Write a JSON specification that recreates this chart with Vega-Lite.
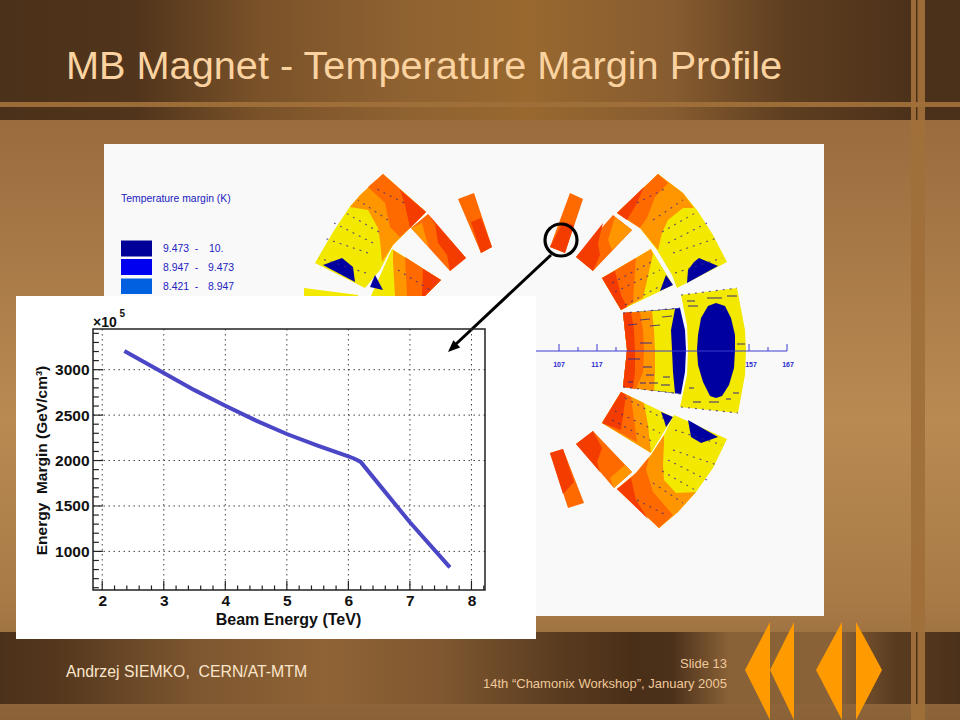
{"$schema":"https://vega.github.io/schema/vega-lite/v6.json","width":392,"height":261,"autosize":{"type":"none"},"padding":{"left":93,"top":329,"right":475,"bottom":130},"background":"#9a6c3e","view":{"stroke":null},"config":{"font":"Liberation Sans"},
"resolve":{"scale":{"x":"independent","y":"independent"}},
"layer":[
{"encoding":{"x":{"field":"x","type":"quantitative","scale":{"domain":[0,960],"range":[-93,867]},"axis":null},"y":{"field":"y","type":"quantitative","scale":{"domain":[0,720],"range":[-329,391]},"axis":null}},
"layer":[
{"data":{"values":[{"x":0,"x2":960,"y":120,"y2":720}]},"mark":{"type":"rect","fill":{"gradient":"linear","x1":0,"y1":0,"x2":0,"y2":1,"stops":[{"offset":0,"color":"#9a6c3e"},{"offset":0.5,"color":"#b98a52"},{"offset":0.8,"color":"#a87a46"},{"offset":1,"color":"#8a6238"}]}},"encoding":{"x2":{"field":"x2"},"y2":{"field":"y2"}}},
{"data":{"values":[{"x":0,"x2":960,"y":0,"y2":120}]},"mark":{"type":"rect","fill":{"gradient":"linear","x1":0,"y1":0,"x2":1,"y2":0,"stops":[{"offset":0,"color":"#4c311a"},{"offset":0.14,"color":"#50341b"},{"offset":0.27,"color":"#7a5229"},{"offset":0.42,"color":"#8f6231"},{"offset":0.55,"color":"#98682f"},{"offset":0.7,"color":"#875c30"},{"offset":0.82,"color":"#5e3e20"},{"offset":0.95,"color":"#4c311a"},{"offset":1,"color":"#4c311a"}]}},"encoding":{"x2":{"field":"x2"},"y2":{"field":"y2"}}},
{"data":{"values":[{"x":0,"x2":960,"y":632,"y2":704}]},"mark":{"type":"rect","fill":{"gradient":"linear","x1":0,"y1":0,"x2":1,"y2":0,"stops":[{"offset":0,"color":"#4c311a"},{"offset":0.06,"color":"#54371d"},{"offset":0.2,"color":"#7d5630"},{"offset":0.34,"color":"#8f6335"},{"offset":0.46,"color":"#7f5730"},{"offset":0.58,"color":"#5a3c20"},{"offset":0.66,"color":"#4a2f18"},{"offset":0.7,"color":"#4c311a"},{"offset":0.76,"color":"#8a6238"},{"offset":0.87,"color":"#8a6238"},{"offset":0.93,"color":"#5a3c20"},{"offset":1,"color":"#4c311a"}]}},"encoding":{"x2":{"field":"x2"},"y2":{"field":"y2"}}},
{"data":{"values":[{"x":0,"x2":960,"y":102,"y2":107},{"x":911,"x2":925,"y":0,"y2":720}]},"mark":{"type":"rect","fill":"#a0703a","opacity":0.95},"encoding":{"x2":{"field":"x2"},"y2":{"field":"y2"}}},
{"data":{"values":[{"x":916,"x2":917.5,"y":0,"y2":102},{"x":916,"x2":917.5,"y":107,"y2":120},{"x":916,"x2":917.5,"y":632,"y2":704}]},"mark":{"type":"rect","fill":"#4c311a"},"encoding":{"x2":{"field":"x2"},"y2":{"field":"y2"}}},
{"data":{"values":[{"x":104,"x2":824,"y":144,"y2":616}]},"mark":{"type":"rect","fill":"#f9f9f9"},"encoding":{"x2":{"field":"x2"},"y2":{"field":"y2"}}},
{"data":{"values":[
{"p":"a1","i":0,"x":570,"y":193,"k":"O"},{"p":"a1","i":1,"x":583,"y":199,"k":"O"},{"p":"a1","i":2,"x":565,"y":253,"k":"O"},{"p":"a1","i":3,"x":550,"y":247,"k":"O"},
{"p":"a2","i":0,"x":563,"y":222,"k":"R"},{"p":"a2","i":1,"x":574,"y":225,"k":"R"},{"p":"a2","i":2,"x":565,"y":253,"k":"R"},{"p":"a2","i":3,"x":550,"y":247,"k":"R"},
{"p":"b1","i":0,"x":613,"y":215,"k":"O"},{"p":"b1","i":1,"x":632,"y":230,"k":"O"},{"p":"b1","i":2,"x":593,"y":271,"k":"O"},{"p":"b1","i":3,"x":576,"y":257,"k":"O"},
{"p":"b2","i":0,"x":576,"y":257,"k":"R"},{"p":"b2","i":1,"x":603,"y":223,"k":"R"},{"p":"b2","i":2,"x":598,"y":243,"k":"R"},{"p":"b2","i":3,"x":600,"y":255,"k":"R"},{"p":"b2","i":4,"x":593,"y":271,"k":"R"},
{"p":"b3","i":0,"x":615,"y":217,"k":"L"},{"p":"b3","i":1,"x":632,"y":230,"k":"L"},{"p":"b3","i":2,"x":612,"y":250,"k":"L"},{"p":"b3","i":3,"x":608,"y":240,"k":"L"},
{"p":"c0","i":0,"x":651,"y":249,"k":"Y"},{"p":"c0","i":1,"x":673,"y":285,"k":"Y"},{"p":"c0","i":2,"x":621,"y":310,"k":"Y"},{"p":"c0","i":3,"x":602,"y":278,"k":"Y"},
{"p":"c1","i":0,"x":602,"y":278,"k":"L"},{"p":"c1","i":1,"x":651,"y":249,"k":"L"},{"p":"c1","i":2,"x":653,"y":254,"k":"L"},{"p":"c1","i":3,"x":643,"y":298,"k":"L"},{"p":"c1","i":4,"x":621,"y":310,"k":"L"},
{"p":"c2","i":0,"x":602,"y":278,"k":"O"},{"p":"c2","i":1,"x":636,"y":258,"k":"O"},{"p":"c2","i":2,"x":633,"y":302,"k":"O"},{"p":"c2","i":3,"x":621,"y":310,"k":"O"},
{"p":"c3","i":0,"x":602,"y":278,"k":"R"},{"p":"c3","i":1,"x":615,"y":271,"k":"R"},{"p":"c3","i":2,"x":621,"y":295,"k":"R"},{"p":"c3","i":3,"x":627,"y":307,"k":"R"},{"p":"c3","i":4,"x":621,"y":310,"k":"R"},
{"p":"c4","i":0,"x":666,"y":275,"k":"B"},{"p":"c4","i":1,"x":673,"y":285,"k":"B"},{"p":"c4","i":2,"x":660,"y":291,"k":"B"},{"p":"c4","i":3,"x":663,"y":283,"k":"B"},
{"p":"d0","i":0,"x":658,"y":174,"k":"Y"},{"p":"d0","i":1,"x":683,"y":193,"k":"Y"},{"p":"d0","i":2,"x":697,"y":210,"k":"Y"},{"p":"d0","i":3,"x":713,"y":235,"k":"Y"},{"p":"d0","i":4,"x":727,"y":262,"k":"Y"},{"p":"d0","i":5,"x":677,"y":288,"k":"Y"},{"p":"d0","i":6,"x":672,"y":275,"k":"Y"},{"p":"d0","i":7,"x":657,"y":250,"k":"Y"},{"p":"d0","i":8,"x":640,"y":228,"k":"Y"},{"p":"d0","i":9,"x":617,"y":213,"k":"Y"},
{"p":"d1","i":0,"x":658,"y":174,"k":"L"},{"p":"d1","i":1,"x":683,"y":193,"k":"L"},{"p":"d1","i":2,"x":694,"y":208,"k":"L"},{"p":"d1","i":3,"x":683,"y":208,"k":"L"},{"p":"d1","i":4,"x":668,"y":220,"k":"L"},{"p":"d1","i":5,"x":662,"y":233,"k":"L"},{"p":"d1","i":6,"x":658,"y":250,"k":"L"},{"p":"d1","i":7,"x":640,"y":228,"k":"L"},{"p":"d1","i":8,"x":617,"y":213,"k":"L"},
{"p":"d2","i":0,"x":658,"y":174,"k":"O"},{"p":"d2","i":1,"x":668,"y":183,"k":"O"},{"p":"d2","i":2,"x":655,"y":197,"k":"O"},{"p":"d2","i":3,"x":647,"y":218,"k":"O"},{"p":"d2","i":4,"x":640,"y":228,"k":"O"},{"p":"d2","i":5,"x":617,"y":213,"k":"O"},
{"p":"d3","i":0,"x":617,"y":213,"k":"R"},{"p":"d3","i":1,"x":644,"y":187,"k":"R"},{"p":"d3","i":2,"x":636,"y":205,"k":"R"},{"p":"d3","i":3,"x":627,"y":220,"k":"R"},
{"p":"d4","i":0,"x":699,"y":258,"k":"B"},{"p":"d4","i":1,"x":718,"y":266,"k":"B"},{"p":"d4","i":2,"x":687,"y":283,"k":"B"},{"p":"d4","i":3,"x":688,"y":270,"k":"B"},{"p":"d4","i":4,"x":694,"y":262,"k":"B"},
{"p":"e0","i":0,"x":623,"y":313,"k":"B"},{"p":"e0","i":1,"x":680,"y":308,"k":"B"},{"p":"e0","i":2,"x":685,"y":330,"k":"B"},{"p":"e0","i":3,"x":686,"y":350,"k":"B"},{"p":"e0","i":4,"x":685,"y":372,"k":"B"},{"p":"e0","i":5,"x":681,"y":394,"k":"B"},{"p":"e0","i":6,"x":623,"y":387,"k":"B"},{"p":"e0","i":7,"x":627,"y":350,"k":"B"},
{"p":"e1","i":0,"x":623,"y":313,"k":"Y"},{"p":"e1","i":1,"x":675,"y":309,"k":"Y"},{"p":"e1","i":2,"x":671,"y":330,"k":"Y"},{"p":"e1","i":3,"x":672,"y":350,"k":"Y"},{"p":"e1","i":4,"x":673,"y":372,"k":"Y"},{"p":"e1","i":5,"x":675,"y":393,"k":"Y"},{"p":"e1","i":6,"x":623,"y":387,"k":"Y"},{"p":"e1","i":7,"x":627,"y":350,"k":"Y"},
{"p":"e2","i":0,"x":623,"y":313,"k":"L"},{"p":"e2","i":1,"x":652,"y":311,"k":"L"},{"p":"e2","i":2,"x":654,"y":330,"k":"L"},{"p":"e2","i":3,"x":655,"y":350,"k":"L"},{"p":"e2","i":4,"x":655,"y":372,"k":"L"},{"p":"e2","i":5,"x":654,"y":391,"k":"L"},{"p":"e2","i":6,"x":623,"y":387,"k":"L"},{"p":"e2","i":7,"x":627,"y":350,"k":"L"},
{"p":"e3","i":0,"x":623,"y":313,"k":"O"},{"p":"e3","i":1,"x":640,"y":312,"k":"O"},{"p":"e3","i":2,"x":643,"y":330,"k":"O"},{"p":"e3","i":3,"x":644,"y":350,"k":"O"},{"p":"e3","i":4,"x":643,"y":372,"k":"O"},{"p":"e3","i":5,"x":636,"y":389,"k":"O"},{"p":"e3","i":6,"x":623,"y":387,"k":"O"},{"p":"e3","i":7,"x":627,"y":350,"k":"O"},
{"p":"e4","i":0,"x":623,"y":313,"k":"R"},{"p":"e4","i":1,"x":631,"y":312,"k":"R"},{"p":"e4","i":2,"x":634,"y":330,"k":"R"},{"p":"e4","i":3,"x":635,"y":350,"k":"R"},{"p":"e4","i":4,"x":635,"y":372,"k":"R"},{"p":"e4","i":5,"x":633,"y":388,"k":"R"},{"p":"e4","i":6,"x":623,"y":387,"k":"R"},{"p":"e4","i":7,"x":627,"y":350,"k":"R"},
{"p":"f0","i":0,"x":681,"y":295,"k":"Y"},{"p":"f0","i":1,"x":737,"y":288,"k":"Y"},{"p":"f0","i":2,"x":745,"y":330,"k":"Y"},{"p":"f0","i":3,"x":746,"y":350,"k":"Y"},{"p":"f0","i":4,"x":745,"y":375,"k":"Y"},{"p":"f0","i":5,"x":738,"y":413,"k":"Y"},{"p":"f0","i":6,"x":680,"y":407,"k":"Y"},{"p":"f0","i":7,"x":687,"y":375,"k":"Y"},{"p":"f0","i":8,"x":688,"y":350,"k":"Y"},{"p":"f0","i":9,"x":687,"y":325,"k":"Y"},
{"p":"f1","i":0,"x":716,"y":303,"k":"B"},{"p":"f1","i":1,"x":725,"y":306,"k":"B"},{"p":"f1","i":2,"x":731,"y":318,"k":"B"},{"p":"f1","i":3,"x":735,"y":335,"k":"B"},{"p":"f1","i":4,"x":735,"y":350,"k":"B"},{"p":"f1","i":5,"x":734,"y":368,"k":"B"},{"p":"f1","i":6,"x":729,"y":385,"k":"B"},{"p":"f1","i":7,"x":722,"y":396,"k":"B"},{"p":"f1","i":8,"x":716,"y":398,"k":"B"},{"p":"f1","i":9,"x":710,"y":396,"k":"B"},{"p":"f1","i":10,"x":703,"y":382,"k":"B"},{"p":"f1","i":11,"x":698,"y":365,"k":"B"},{"p":"f1","i":12,"x":697,"y":350,"k":"B"},{"p":"f1","i":13,"x":698,"y":335,"k":"B"},{"p":"f1","i":14,"x":701,"y":318,"k":"B"},{"p":"f1","i":15,"x":708,"y":306,"k":"B"},
{"p":"g0","i":0,"x":621,"y":392,"k":"Y"},{"p":"g0","i":1,"x":673,"y":417,"k":"Y"},{"p":"g0","i":2,"x":651,"y":453,"k":"Y"},{"p":"g0","i":3,"x":602,"y":423,"k":"Y"},
{"p":"g1","i":0,"x":621,"y":392,"k":"L"},{"p":"g1","i":1,"x":644,"y":403,"k":"L"},{"p":"g1","i":2,"x":648,"y":425,"k":"L"},{"p":"g1","i":3,"x":651,"y":453,"k":"L"},{"p":"g1","i":4,"x":602,"y":423,"k":"L"},
{"p":"g2","i":0,"x":621,"y":392,"k":"O"},{"p":"g2","i":1,"x":631,"y":397,"k":"O"},{"p":"g2","i":2,"x":637,"y":442,"k":"O"},{"p":"g2","i":3,"x":602,"y":423,"k":"O"},
{"p":"g3","i":0,"x":621,"y":392,"k":"R"},{"p":"g3","i":1,"x":626,"y":395,"k":"R"},{"p":"g3","i":2,"x":621,"y":430,"k":"R"},{"p":"g3","i":3,"x":602,"y":423,"k":"R"},
{"p":"g4","i":0,"x":661,"y":412,"k":"B"},{"p":"g4","i":1,"x":673,"y":417,"k":"B"},{"p":"g4","i":2,"x":666,"y":427,"k":"B"},{"p":"g4","i":3,"x":664,"y":420,"k":"B"},
{"p":"h0","i":0,"x":593,"y":431,"k":"O"},{"p":"h0","i":1,"x":632,"y":472,"k":"O"},{"p":"h0","i":2,"x":614,"y":488,"k":"O"},{"p":"h0","i":3,"x":576,"y":444,"k":"O"},
{"p":"h1","i":0,"x":576,"y":444,"k":"R"},{"p":"h1","i":1,"x":593,"y":431,"k":"R"},{"p":"h1","i":2,"x":602,"y":448,"k":"R"},{"p":"h1","i":3,"x":597,"y":462,"k":"R"},{"p":"h1","i":4,"x":600,"y":472,"k":"R"},
{"p":"h2","i":0,"x":625,"y":465,"k":"L"},{"p":"h2","i":1,"x":632,"y":472,"k":"L"},{"p":"h2","i":2,"x":614,"y":488,"k":"L"},{"p":"h2","i":3,"x":610,"y":478,"k":"L"},
{"p":"i0","i":0,"x":550,"y":453,"k":"O"},{"p":"i0","i":1,"x":563,"y":449,"k":"O"},{"p":"i0","i":2,"x":584,"y":503,"k":"O"},{"p":"i0","i":3,"x":568,"y":508,"k":"O"},
{"p":"i1","i":0,"x":550,"y":453,"k":"R"},{"p":"i1","i":1,"x":563,"y":449,"k":"R"},{"p":"i1","i":2,"x":574,"y":482,"k":"R"},{"p":"i1","i":3,"x":563,"y":494,"k":"R"},
{"p":"j0","i":0,"x":674,"y":415,"k":"Y"},{"p":"j0","i":1,"x":727,"y":439,"k":"Y"},{"p":"j0","i":2,"x":713,"y":468,"k":"Y"},{"p":"j0","i":3,"x":696,"y":492,"k":"Y"},{"p":"j0","i":4,"x":678,"y":512,"k":"Y"},{"p":"j0","i":5,"x":659,"y":528,"k":"Y"},{"p":"j0","i":6,"x":617,"y":489,"k":"Y"},{"p":"j0","i":7,"x":636,"y":473,"k":"Y"},{"p":"j0","i":8,"x":651,"y":455,"k":"Y"},{"p":"j0","i":9,"x":664,"y":435,"k":"Y"},
{"p":"j1","i":0,"x":664,"y":435,"k":"L"},{"p":"j1","i":1,"x":651,"y":455,"k":"L"},{"p":"j1","i":2,"x":636,"y":473,"k":"L"},{"p":"j1","i":3,"x":617,"y":489,"k":"L"},{"p":"j1","i":4,"x":659,"y":528,"k":"L"},{"p":"j1","i":5,"x":678,"y":512,"k":"L"},{"p":"j1","i":6,"x":696,"y":492,"k":"L"},{"p":"j1","i":7,"x":676,"y":493,"k":"L"},{"p":"j1","i":8,"x":664,"y":480,"k":"L"},{"p":"j1","i":9,"x":663,"y":465,"k":"L"},{"p":"j1","i":10,"x":664,"y":443,"k":"L"},
{"p":"j2","i":0,"x":649,"y":457,"k":"O"},{"p":"j2","i":1,"x":636,"y":473,"k":"O"},{"p":"j2","i":2,"x":617,"y":489,"k":"O"},{"p":"j2","i":3,"x":659,"y":528,"k":"O"},{"p":"j2","i":4,"x":673,"y":515,"k":"O"},{"p":"j2","i":5,"x":653,"y":492,"k":"O"},{"p":"j2","i":6,"x":646,"y":470,"k":"O"},
{"p":"j3","i":0,"x":631,"y":478,"k":"R"},{"p":"j3","i":1,"x":617,"y":489,"k":"R"},{"p":"j3","i":2,"x":648,"y":519,"k":"R"},{"p":"j3","i":3,"x":636,"y":500,"k":"R"},
{"p":"j4","i":0,"x":688,"y":420,"k":"B"},{"p":"j4","i":1,"x":718,"y":437,"k":"B"},{"p":"j4","i":2,"x":701,"y":443,"k":"B"},{"p":"j4","i":3,"x":691,"y":437,"k":"B"},
{"p":"k0","i":0,"x":458,"y":199,"k":"O"},{"p":"k0","i":1,"x":474,"y":193,"k":"O"},{"p":"k0","i":2,"x":492,"y":247,"k":"O"},{"p":"k0","i":3,"x":481,"y":253,"k":"O"},
{"p":"k1","i":0,"x":471,"y":222,"k":"R"},{"p":"k1","i":1,"x":481,"y":218,"k":"R"},{"p":"k1","i":2,"x":492,"y":247,"k":"R"},{"p":"k1","i":3,"x":481,"y":253,"k":"R"},
{"p":"l0","i":0,"x":428,"y":214,"k":"O"},{"p":"l0","i":1,"x":466,"y":258,"k":"O"},{"p":"l0","i":2,"x":450,"y":271,"k":"O"},{"p":"l0","i":3,"x":411,"y":228,"k":"O"},
{"p":"l1","i":0,"x":428,"y":214,"k":"R"},{"p":"l1","i":1,"x":466,"y":258,"k":"R"},{"p":"l1","i":2,"x":450,"y":271,"k":"R"},{"p":"l1","i":3,"x":447,"y":255,"k":"R"},{"p":"l1","i":4,"x":438,"y":243,"k":"R"},{"p":"l1","i":5,"x":435,"y":224,"k":"R"},
{"p":"l2","i":0,"x":411,"y":228,"k":"L"},{"p":"l2","i":1,"x":422,"y":223,"k":"L"},{"p":"l2","i":2,"x":425,"y":235,"k":"L"},{"p":"l2","i":3,"x":429,"y":247,"k":"L"},
{"p":"m0","i":0,"x":383,"y":174,"k":"Y"},{"p":"m0","i":1,"x":426,"y":212,"k":"Y"},{"p":"m0","i":2,"x":410,"y":228,"k":"Y"},{"p":"m0","i":3,"x":393,"y":245,"k":"Y"},{"p":"m0","i":4,"x":380,"y":270,"k":"Y"},{"p":"m0","i":5,"x":365,"y":288,"k":"Y"},{"p":"m0","i":6,"x":315,"y":263,"k":"Y"},{"p":"m0","i":7,"x":333,"y":232,"k":"Y"},{"p":"m0","i":8,"x":351,"y":205,"k":"Y"},
{"p":"m1","i":0,"x":383,"y":174,"k":"L"},{"p":"m1","i":1,"x":426,"y":212,"k":"L"},{"p":"m1","i":2,"x":410,"y":228,"k":"L"},{"p":"m1","i":3,"x":393,"y":245,"k":"L"},{"p":"m1","i":4,"x":382,"y":262,"k":"L"},{"p":"m1","i":5,"x":380,"y":240,"k":"L"},{"p":"m1","i":6,"x":378,"y":228,"k":"L"},{"p":"m1","i":7,"x":368,"y":210,"k":"L"},{"p":"m1","i":8,"x":350,"y":207,"k":"L"},{"p":"m1","i":9,"x":360,"y":195,"k":"L"},
{"p":"m2","i":0,"x":383,"y":174,"k":"O"},{"p":"m2","i":1,"x":426,"y":212,"k":"O"},{"p":"m2","i":2,"x":410,"y":228,"k":"O"},{"p":"m2","i":3,"x":400,"y":237,"k":"O"},{"p":"m2","i":4,"x":390,"y":227,"k":"O"},{"p":"m2","i":5,"x":385,"y":203,"k":"O"},{"p":"m2","i":6,"x":368,"y":187,"k":"O"},
{"p":"m3","i":0,"x":400,"y":190,"k":"R"},{"p":"m3","i":1,"x":426,"y":212,"k":"R"},{"p":"m3","i":2,"x":410,"y":228,"k":"R"},{"p":"m3","i":3,"x":405,"y":205,"k":"R"},
{"p":"m4","i":0,"x":323,"y":265,"k":"B"},{"p":"m4","i":1,"x":342,"y":258,"k":"B"},{"p":"m4","i":2,"x":353,"y":267,"k":"B"},{"p":"m4","i":3,"x":355,"y":282,"k":"B"},
{"p":"n0","i":0,"x":392,"y":249,"k":"Y"},{"p":"n0","i":1,"x":441,"y":280,"k":"Y"},{"p":"n0","i":2,"x":425,"y":296,"k":"Y"},{"p":"n0","i":3,"x":371,"y":296,"k":"Y"},
{"p":"n1","i":0,"x":393,"y":250,"k":"L"},{"p":"n1","i":1,"x":441,"y":280,"k":"L"},{"p":"n1","i":2,"x":425,"y":296,"k":"L"},{"p":"n1","i":3,"x":395,"y":296,"k":"L"},{"p":"n1","i":4,"x":393,"y":262,"k":"L"},
{"p":"n2","i":0,"x":405,"y":257,"k":"O"},{"p":"n2","i":1,"x":441,"y":280,"k":"O"},{"p":"n2","i":2,"x":425,"y":296,"k":"O"},{"p":"n2","i":3,"x":407,"y":296,"k":"O"},
{"p":"n3","i":0,"x":423,"y":269,"k":"R"},{"p":"n3","i":1,"x":441,"y":280,"k":"R"},{"p":"n3","i":2,"x":425,"y":296,"k":"R"},{"p":"n3","i":3,"x":422,"y":296,"k":"R"},
{"p":"n4","i":0,"x":375,"y":275,"k":"B"},{"p":"n4","i":1,"x":383,"y":290,"k":"B"},{"p":"n4","i":2,"x":370,"y":287,"k":"B"},
{"p":"o0","i":0,"x":304,"y":288,"k":"Y"},{"p":"o0","i":1,"x":358,"y":295,"k":"Y"},{"p":"o0","i":2,"x":358,"y":296,"k":"Y"},{"p":"o0","i":3,"x":304,"y":296,"k":"Y"}
]},"mark":{"type":"line","strokeOpacity":0,"strokeWidth":0},"encoding":{"detail":{"field":"p"},"order":{"field":"i","type":"quantitative"},"fill":{"field":"k","type":"nominal","legend":null,"scale":{"domain":["R","O","L","Y","B"],"range":["#f53c00","#ff6a00","#ff9600","#f2e800","#0000a0"]}}}},
{"data":{"values":[{"x":628,"x2":637,"y":325,"y2":324},{"x":640,"x2":650,"y":320,"y2":319},{"x":650,"x2":660,"y":326,"y2":325},{"x":662,"x2":672,"y":317,"y2":316},{"x":640,"x2":652,"y":343,"y2":343},{"x":628,"x2":640,"y":359,"y2":359},{"x":643,"x2":652,"y":367,"y2":367},{"x":646,"x2":654,"y":375,"y2":375},{"x":663,"x2":670,"y":377,"y2":377},{"x":628,"x2":633,"y":382,"y2":382},{"x":640,"x2":646,"y":383,"y2":383},{"x":649,"x2":658,"y":383,"y2":383},{"x":661,"x2":670,"y":385,"y2":385},{"x":687,"x2":695,"y":301,"y2":301},{"x":707,"x2":722,"y":298,"y2":298},{"x":727,"x2":737,"y":296,"y2":296},{"x":688,"x2":698,"y":306,"y2":306},{"x":737,"x2":745,"y":344,"y2":344},{"x":733,"x2":739,"y":393,"y2":393},{"x":726,"x2":731,"y":399,"y2":399},{"x":689,"x2":694,"y":388,"y2":388},{"x":693,"x2":701,"y":402,"y2":402},{"x":709,"x2":719,"y":402,"y2":402}]},"mark":{"type":"rule","stroke":"#3a2a80","strokeWidth":1.2,"opacity":0.85},"encoding":{"x2":{"field":"x2"},"y2":{"field":"y2"}}},
{"data":{"values":[{"x":623,"x2":680,"y":313,"y2":308},{"x":681,"x2":737,"y":295,"y2":288},{"x":681,"x2":738,"y":407,"y2":413},{"x":623,"x2":681,"y":387,"y2":394},{"x":673,"x2":717,"y":253,"y2":238},{"x":668,"x2":707,"y":243,"y2":223},{"x":662,"x2":697,"y":232,"y2":212},{"x":653,"x2":683,"y":220,"y2":200},{"x":637,"x2":668,"y":203,"y2":187},{"x":675,"x2":722,"y":273,"y2":258},{"x":673,"x2":717,"y":450,"y2":465},{"x":668,"x2":707,"y":460,"y2":480},{"x":662,"x2":697,"y":471,"y2":491},{"x":653,"x2":683,"y":483,"y2":503},{"x":637,"x2":668,"y":500,"y2":516},{"x":675,"x2":722,"y":430,"y2":445},{"x":368,"x2":324,"y":253,"y2":238},{"x":373,"x2":334,"y":243,"y2":223},{"x":379,"x2":344,"y":232,"y2":212},{"x":388,"x2":358,"y":220,"y2":200},{"x":404,"x2":373,"y":203,"y2":187},{"x":366,"x2":319,"y":273,"y2":258},{"x":615,"x2":660,"y":292,"y2":270},{"x":612,"x2":655,"y":283,"y2":260},{"x":625,"x2":668,"y":305,"y2":282},{"x":615,"x2":660,"y":411,"y2":433},{"x":612,"x2":655,"y":420,"y2":443},{"x":625,"x2":668,"y":398,"y2":421},{"x":398,"x2":430,"y":270,"y2":290}]},"mark":{"type":"rule","stroke":"#3a2a80","strokeWidth":1.1,"strokeDash":[2,5],"opacity":0.8},"encoding":{"x2":{"field":"x2"},"y2":{"field":"y2"}}},
{"data":{"values":[{"x":500,"x2":787,"y":351,"y2":351},{"x":559,"x2":559,"y":344,"y2":351},{"x":578,"x2":578,"y":347,"y2":351},{"x":597,"x2":597,"y":344,"y2":351},{"x":616,"x2":616,"y":347,"y2":351},{"x":749,"x2":749,"y":344,"y2":351},{"x":768,"x2":768,"y":347,"y2":351},{"x":787,"x2":787,"y":344,"y2":351}]},"mark":{"type":"rule","stroke":"#3a3ad0","strokeWidth":1},"encoding":{"x2":{"field":"x2"},"y2":{"field":"y2"}}},
{"data":{"values":[{"x":559,"y":365,"t":"107"},{"x":597,"y":365,"t":"117"},{"x":751,"y":365,"t":"157"},{"x":788,"y":365,"t":"167"}]},"mark":{"type":"text","fontSize":7,"fontWeight":"bold","fill":"#2a2ad0","align":"center","baseline":"middle"},"encoding":{"text":{"field":"t"}}},
{"data":{"values":[{"x":121,"x2":152,"y":240.5,"y2":256.5,"c":"#000099"},{"x":121,"x2":152,"y":259,"y2":275,"c":"#0000f0"},{"x":121,"x2":152,"y":278.5,"y2":294,"c":"#0060e0"}]},"mark":{"type":"rect"},"encoding":{"x2":{"field":"x2"},"y2":{"field":"y2"},"fill":{"field":"c","type":"nominal","scale":null}}},
{"data":{"values":[{"x":121,"y":199,"t":"Temperature margin (K)"},{"x":163,"y":249,"t":"9.473\u00a0\u00a0-"},{"x":209,"y":249,"t":"10."},{"x":163,"y":268,"t":"8.947\u00a0\u00a0-"},{"x":208,"y":268,"t":"9.473"},{"x":163,"y":287,"t":"8.421\u00a0\u00a0-"},{"x":208,"y":287,"t":"8.947"}]},"mark":{"type":"text","fontSize":10.4,"fill":"#2222c0","align":"left","baseline":"middle"},"encoding":{"text":{"field":"t"}}},
{"data":{"values":[{"x":16,"x2":536,"y":296,"y2":639}]},"mark":{"type":"rect","fill":"#ffffff"},"encoding":{"x2":{"field":"x2"},"y2":{"field":"y2"}}},
{"data":{"values":[{"x":561,"y":240}]},"mark":{"type":"point","shape":"circle","size":1024,"filled":false,"stroke":"#000000","strokeWidth":3.2,"opacity":1}},
{"data":{"values":[{"x":551,"y":255,"i":0},{"x":456,"y":344,"i":1}]},"mark":{"type":"line","stroke":"#000000","strokeWidth":3},"encoding":{"order":{"field":"i","type":"quantitative"}}},
{"data":{"values":[{"x":448,"y":352,"y2":352},{"x":453.4,"y":340.2,"y2":350},{"x":460.2,"y":347.4,"y2":347.4}]},"mark":{"type":"area","fill":"#000000","interpolate":"linear"},"encoding":{"y2":{"field":"y2"}}},
{"data":{"values":[{"s":"a","x":745,"y":670,"y2":670},{"s":"a","x":770,"y":622,"y2":720},{"s":"b","x":770,"y":670,"y2":670},{"s":"b","x":794,"y":622,"y2":720},{"s":"c","x":816,"y":670,"y2":670},{"s":"c","x":842,"y":622,"y2":720},{"s":"d","x":856,"y":622,"y2":720},{"s":"d","x":882,"y":670,"y2":670}]},"mark":{"type":"area","fill":"#ff9a00","interpolate":"linear"},"encoding":{"y2":{"field":"y2"},"detail":{"field":"s"}}},
{"data":{"values":[{"x":66,"y":79,"t":"MB Magnet - Temperature Margin Profile"}]},"mark":{"type":"text","font":"Liberation Sans","fontSize":39.7,"fill":"#fbd3a0","align":"left","baseline":"alphabetic"},"encoding":{"text":{"field":"t"}}},
{"data":{"values":[{"x":66,"y":677,"t":"Andrzej SIEMKO,\u00a0\u00a0CERN/AT-MTM"}]},"mark":{"type":"text","fontSize":15.8,"fill":"#fbe6cc","align":"left","baseline":"alphabetic"},"encoding":{"text":{"field":"t"}}},
{"data":{"values":[{"x":727,"y":668,"t":"Slide 13"},{"x":727,"y":688,"t":"14th “Chamonix Workshop”, January 2005"}]},"mark":{"type":"text","fontSize":13,"fill":"#f0c99a","align":"right","baseline":"alphabetic"},"encoding":{"text":{"field":"t"}}}
]},
{"encoding":{"x":{"field":"x","type":"quantitative","scale":{"domain":[1.85,8.22],"nice":false,"zero":false},"axis":{"values":[2,3,4,5,6,7,8],"format":"d","grid":false,"domain":false,"ticks":false,"zindex":1,"title":"Beam Energy (TeV)","labelFont":"Liberation Sans","labelFontWeight":"bold","labelFontSize":15.5,"labelColor":"#111111","labelPadding":3,"titleFont":"Liberation Sans","titleFontWeight":"bold","titleFontSize":16,"titleColor":"#111111","titlePadding":3,"titleX":195}},"y":{"field":"y","type":"quantitative","scale":{"domain":[575,3448],"nice":false,"zero":false},"axis":{"values":[1000,1500,2000,2500,3000],"format":"d","grid":false,"domain":false,"ticks":false,"zindex":1,"title":"Energy\u00a0\u00a0Margin (GeV/cm³)","labelFont":"Liberation Sans","labelFontWeight":"bold","labelFontSize":15.5,"labelColor":"#111111","labelPadding":4,"titleFont":"Liberation Sans","titleFontWeight":"bold","titleFontSize":15.5,"titleColor":"#111111","titlePadding":5,"titleY":131}}},
"layer":[
{"data":{"values":[{"x":2},{"x":3},{"x":4},{"x":5},{"x":6},{"x":7},{"x":8}]},"mark":{"type":"rule","stroke":"#444444","strokeWidth":1,"strokeDash":[1.5,3.5]},"encoding":{"y":null}},
{"data":{"values":[{"y":1000},{"y":1500},{"y":2000},{"y":2500},{"y":3000}]},"mark":{"type":"rule","stroke":"#444444","strokeWidth":1,"strokeDash":[1.5,3.5]},"encoding":{"x":null}},
{"data":{"values":[{"x":2,"y":575,"y2":674},{"x":2.2,"y":575,"y2":625},{"x":2.4,"y":575,"y2":625},{"x":2.6,"y":575,"y2":625},{"x":2.8,"y":575,"y2":625},{"x":3,"y":575,"y2":674},{"x":3.2,"y":575,"y2":625},{"x":3.4,"y":575,"y2":625},{"x":3.6,"y":575,"y2":625},{"x":3.8,"y":575,"y2":625},{"x":4,"y":575,"y2":674},{"x":4.2,"y":575,"y2":625},{"x":4.4,"y":575,"y2":625},{"x":4.6,"y":575,"y2":625},{"x":4.8,"y":575,"y2":625},{"x":5,"y":575,"y2":674},{"x":5.2,"y":575,"y2":625},{"x":5.4,"y":575,"y2":625},{"x":5.6,"y":575,"y2":625},{"x":5.8,"y":575,"y2":625},{"x":6,"y":575,"y2":674},{"x":6.2,"y":575,"y2":625},{"x":6.4,"y":575,"y2":625},{"x":6.6,"y":575,"y2":625},{"x":6.8,"y":575,"y2":625},{"x":7,"y":575,"y2":674},{"x":7.2,"y":575,"y2":625},{"x":7.4,"y":575,"y2":625},{"x":7.6,"y":575,"y2":625},{"x":7.8,"y":575,"y2":625},{"x":8,"y":575,"y2":674},{"x":8.2,"y":575,"y2":625}]},"mark":{"type":"rule","stroke":"#222222","strokeWidth":1.2},"encoding":{"y2":{"field":"y2"}}},
{"data":{"values":[{"y":600,"x":1.85,"x2":1.945},{"y":700,"x":1.85,"x2":1.945},{"y":800,"x":1.85,"x2":1.945},{"y":900,"x":1.85,"x2":1.945},{"y":1000,"x":1.85,"x2":2.01},{"y":1100,"x":1.85,"x2":1.945},{"y":1200,"x":1.85,"x2":1.945},{"y":1300,"x":1.85,"x2":1.945},{"y":1400,"x":1.85,"x2":1.945},{"y":1500,"x":1.85,"x2":2.01},{"y":1600,"x":1.85,"x2":1.945},{"y":1700,"x":1.85,"x2":1.945},{"y":1800,"x":1.85,"x2":1.945},{"y":1900,"x":1.85,"x2":1.945},{"y":2000,"x":1.85,"x2":2.01},{"y":2100,"x":1.85,"x2":1.945},{"y":2200,"x":1.85,"x2":1.945},{"y":2300,"x":1.85,"x2":1.945},{"y":2400,"x":1.85,"x2":1.945},{"y":2500,"x":1.85,"x2":2.01},{"y":2600,"x":1.85,"x2":1.945},{"y":2700,"x":1.85,"x2":1.945},{"y":2800,"x":1.85,"x2":1.945},{"y":2900,"x":1.85,"x2":1.945},{"y":3000,"x":1.85,"x2":2.01},{"y":3100,"x":1.85,"x2":1.945},{"y":3200,"x":1.85,"x2":1.945},{"y":3300,"x":1.85,"x2":1.945},{"y":3400,"x":1.85,"x2":1.945}]},"mark":{"type":"rule","stroke":"#222222","strokeWidth":1.2},"encoding":{"x2":{"field":"x2"}}},
{"data":{"values":[{"x":1.85,"x2":8.22,"y":575,"y2":3448}]},"mark":{"type":"rect","fillOpacity":0,"stroke":"#222222","strokeWidth":1.5},"encoding":{"x2":{"field":"x2"},"y2":{"field":"y2"}}},
{"data":{"values":[{"x":2.36,"y":3205},{"x":3,"y":2963},{"x":3.5,"y":2775},{"x":4,"y":2604},{"x":4.5,"y":2440},{"x":5,"y":2292},{"x":5.5,"y":2165},{"x":6,"y":2045},{"x":6.1,"y":2020},{"x":6.2,"y":1985},{"x":6.5,"y":1735},{"x":7,"y":1320},{"x":7.65,"y":824}]},"mark":{"type":"line","stroke":"#4b46c6","strokeWidth":4,"interpolate":"linear"}},
{"data":{"values":[{"x":1.85,"y":3400,"t":"×10"}]},"mark":{"type":"text","fontSize":14,"fontWeight":"bold","fill":"#111111","align":"left","baseline":"bottom","dy":-3},"encoding":{"text":{"field":"t"}}},
{"data":{"values":[{"x":2.28,"y":3610,"t":"5"}]},"mark":{"type":"text","fontSize":10,"fontWeight":"bold","fill":"#111111","align":"left","baseline":"middle"},"encoding":{"text":{"field":"t"}}}
]}
]}
